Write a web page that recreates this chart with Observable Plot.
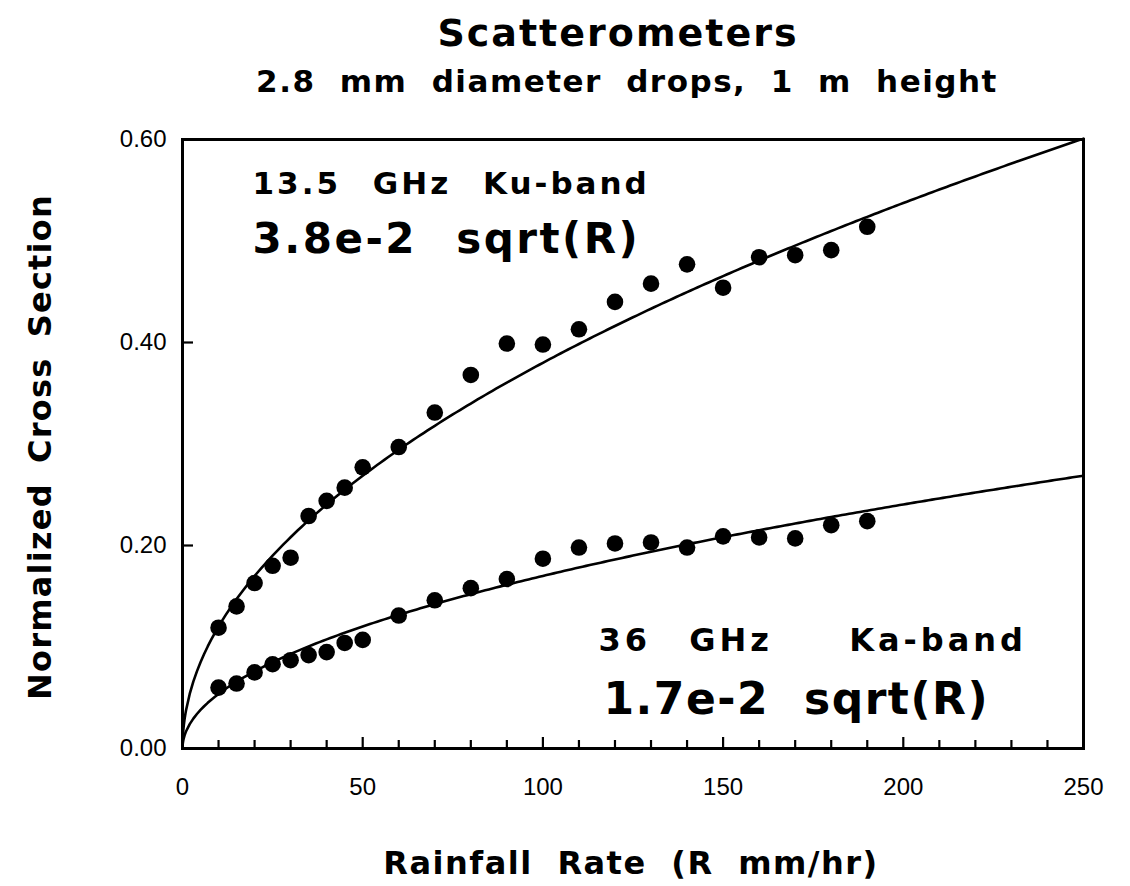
<!DOCTYPE html>
<html>
<head>
<meta charset="utf-8">
<script src="https://cdn.jsdelivr.net/npm/d3@7"></script>
<script src="https://cdn.jsdelivr.net/npm/@observablehq/plot@0.6"></script>
<style>
  html, body { margin: 0; padding: 0; background: white; }
  #wrap { position: relative; width: 1130px; }
  #head { position: relative; width: 1130px; height: 100px; }
  .ttl { position: absolute; left: 0; width: 1130px; box-sizing: border-box; text-align: center;
         font-family: "DejaVu Sans", sans-serif; font-weight: bold; line-height: 1; color: black; white-space: nowrap; }
  #title { top: 14px; font-size: 38px; letter-spacing: 2px; padding-left: 106px; }
  #subtitle { top: 66px; font-size: 31px; letter-spacing: 1.5px; word-spacing: 12px; padding-left: 124px; }
</style>
</head>
<body>
<div id="wrap">
  <div id="head">
    <div id="title" class="ttl">Scatterometers</div>
    <div id="subtitle" class="ttl">2.8 mm diameter drops, 1 m height</div>
  </div>
  <div id="chart"></div>
</div>
<script>
// ---- data ----
const rainRate = [10, 15, 20, 25, 30, 35, 40, 45, 50, 60, 70, 80, 90, 100, 110, 120, 130, 140, 150, 160, 170, 180, 190];
const kuSigma  = [0.119, 0.140, 0.163, 0.180, 0.188, 0.229, 0.244, 0.257, 0.277, 0.297, 0.331, 0.368, 0.399, 0.398, 0.413, 0.440, 0.458, 0.477, 0.454, 0.484, 0.486, 0.491, 0.514];
const kaSigma  = [0.060, 0.064, 0.075, 0.083, 0.087, 0.092, 0.095, 0.104, 0.107, 0.131, 0.146, 0.158, 0.167, 0.187, 0.198, 0.202, 0.203, 0.198, 0.209, 0.208, 0.207, 0.220, 0.224];
const bandNames = ["Ku", "Ka"];
const fitCoefficients = [3.8e-2, 1.7e-2];   // sigma = c * sqrt(R), as stated on the chart
const xTickLabels = [0, 50, 100, 150, 200, 250];
const yTickLabels = [0, 0.2, 0.4, 0.6];
const xMinorTicks = [10, 20, 30, 40, 60, 70, 80, 90, 110, 120, 130, 140, 160, 170, 180, 190, 210, 220, 230, 240];
const xMajorTicks = [50, 100, 150, 200];
const yInnerTicks = [0.2, 0.4];
const annotationTexts = ["13.5 GHz Ku-band", "3.8e-2 sqrt(R)", "36 GHz  Ka-band", "1.7e-2 sqrt(R)"];
const axisTitles = ["Rainfall Rate (R mm/hr)", "Normalized Cross Section"];

// ---- tables built from the arrays ----
const observations = [
  ...rainRate.map((R, i) => ({R, sigma: kuSigma[i], band: bandNames[0]})),
  ...rainRate.map((R, i) => ({R, sigma: kaSigma[i], band: bandNames[1]}))
];
const rGrid = [...d3.range(0, 1, 0.02), ...d3.range(1, 250.001, 1)];
const fitCurves = bandNames.flatMap((band, k) => rGrid.map(R => ({R, sigma: fitCoefficients[k] * Math.sqrt(R), band})));

const W = 1130, H = 786, mT = 39, mB = 138, mL = 182, mR = 47;
const frameW = W - mL - mR, frameH = H - mT - mB;

const bold = {fontFamily: "DejaVu Sans", fontWeight: "bold"};

const chart = Plot.plot({
  width: W, height: H,
  marginTop: mT, marginBottom: mB, marginLeft: mL, marginRight: mR,
  style: {background: "white", color: "black", fontFamily: "Liberation Sans", fontSize: "24px"},
  x: {domain: [0, 250]},
  y: {domain: [0, 0.6]},
  marks: [
    Plot.line(fitCurves, {x: "R", y: "sigma", z: "band", stroke: "black", strokeWidth: 2.6}),
    Plot.dot(observations, {x: "R", y: "sigma", r: 8.3, fill: "black", stroke: "none"}),
    Plot.tickX(xMinorTicks, {x: d => d, insetTop: frameH - 8, stroke: "black", strokeWidth: 2.2}),
    Plot.tickX(xMajorTicks, {x: d => d, insetTop: frameH - 11, stroke: "black", strokeWidth: 2.2}),
    Plot.tickY(yInnerTicks, {y: d => d, insetRight: frameW - 11, stroke: "black", strokeWidth: 2.2}),
    Plot.frame({stroke: "black", strokeWidth: 3}),
    Plot.axisX({ticks: xTickLabels, tickSize: 0, tickPadding: 29, label: null, fontSize: 24}),
    Plot.axisY({ticks: yTickLabels, tickSize: 0, tickPadding: 16, tickFormat: d3.format(".2f"), label: null, fontSize: 24}),
    Plot.text([annotationTexts[0]], {text: d => d, frameAnchor: "top-left", textAnchor: "start", lineAnchor: "bottom", dx: 70, dy: 54, fontSize: 31, ...bold}),
    Plot.text([annotationTexts[1]], {text: d => d, frameAnchor: "top-left", textAnchor: "start", lineAnchor: "bottom", dx: 70, dy: 113, fontSize: 42, ...bold}),
    Plot.text([annotationTexts[2]], {text: d => d, frameAnchor: "top-left", textAnchor: "start", lineAnchor: "bottom", dx: 416, dy: 511, fontSize: 32, ...bold}),
    Plot.text([annotationTexts[3]], {text: d => d, frameAnchor: "top-left", textAnchor: "start", lineAnchor: "bottom", dx: 421, dy: 574, fontSize: 44, ...bold}),
    Plot.text([axisTitles[0]], {text: d => d, frameAnchor: "bottom", textAnchor: "middle", lineAnchor: "bottom", dx: -2, dy: 125, fontSize: 32, ...bold}),
    Plot.text([axisTitles[1]], {text: d => d, frameAnchor: "left", textAnchor: "middle", lineAnchor: "bottom", rotate: -90, dx: -132, dy: 3, fontSize: 32, ...bold})
  ]
});

// text spacing to mimic the wide plotter lettering
const spacing = {
  [annotationTexts[0]]: {letterSpacing: "3px", wordSpacing: "18px"},
  [annotationTexts[1]]: {letterSpacing: "2.5px", wordSpacing: "22px"},
  [annotationTexts[2]]: {letterSpacing: "4px", wordSpacing: "23px", whiteSpace: "pre"},
  [annotationTexts[3]]: {letterSpacing: "1.5px", wordSpacing: "18px"},
  [axisTitles[0]]: {letterSpacing: "1.5px", wordSpacing: "12px"},
  [axisTitles[1]]: {letterSpacing: "1.2px", wordSpacing: "8px"}
};
chart.querySelectorAll("text").forEach(t => {
  const s = spacing[t.textContent];
  if (s) Object.assign(t.style, s);
  else if (/^[0-9.]+$/.test(t.textContent)) { t.style.fontSize = "24px"; t.style.fontFamily = "Liberation Sans"; }
});
document.getElementById("chart").appendChild(chart);
</script>
</body>
</html>
